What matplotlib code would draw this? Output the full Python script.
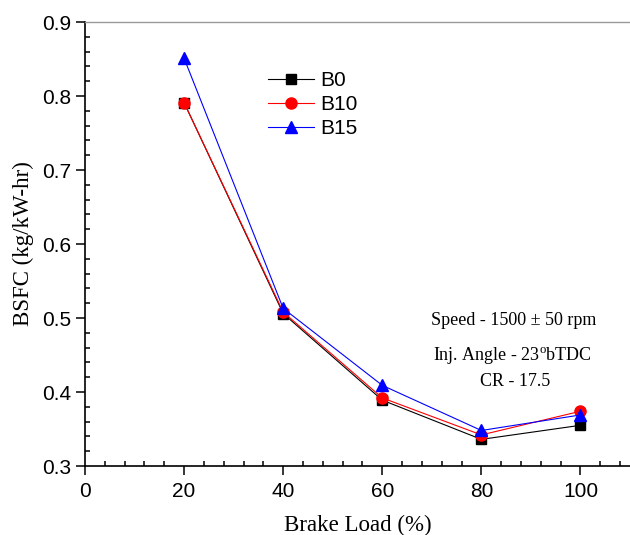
import matplotlib.pyplot as plt
from matplotlib.ticker import MultipleLocator

plt.rcParams['font.family'] = ['Liberation Sans', 'DejaVu Sans']
plt.rcParams['mathtext.fontset'] = 'custom'
plt.rcParams['mathtext.rm'] = 'Liberation Serif'

# data
load = [20, 40, 60, 80, 100]
b0 = [0.791, 0.506, 0.389, 0.336, 0.355]
b10 = [0.791, 0.508, 0.392, 0.342, 0.374]
b15 = [0.851, 0.513, 0.409, 0.348, 0.369]

fig = plt.figure(figsize=(6.3, 5.35), dpi=100)
ax = fig.add_axes([85 / 630, 1 - 466 / 535, 545 / 630, 444 / 535])

ax.plot(load, b0, color='black', lw=0.8, marker='s', ms=7, label='B0')
ax.plot(load, b10, color='red', lw=0.8, marker='o', ms=8, label='B10')
ax.plot(load, b15, color='blue', lw=0.8, marker='^', ms=9, label='B15')

ax.set_xlim(0, 110)
ax.set_ylim(0.3, 0.9)
ax.xaxis.set_major_locator(MultipleLocator(20))
ax.xaxis.set_minor_locator(MultipleLocator(4))
ax.yaxis.set_major_locator(MultipleLocator(0.1))
ax.yaxis.set_minor_locator(MultipleLocator(0.02))
ax.yaxis.set_major_formatter(plt.FormatStrFormatter('%.1f'))

ax.tick_params(which='major', direction='out', length=6.5, width=1.1, labelsize=15)
ax.tick_params(axis='x', which='major', pad=5)
ax.tick_params(which='minor', direction='in', length=3.8, width=1.1)
ax.spines['right'].set_visible(False)
ax.spines['top'].set_color('#999999')
ax.spines['top'].set_linewidth(1.0)
ax.spines['left'].set_linewidth(1.2)
ax.spines['bottom'].set_linewidth(1.2)

ax.set_xlabel('Brake Load (%)', family='Liberation Serif', fontsize=16.5, labelpad=10)
ax.set_ylabel('BSFC (kg/kW-hr)', family='Liberation Serif', fontsize=16.5, labelpad=6)

ax.legend(loc='upper left', bbox_to_anchor=(0.336, 0.89), frameon=False,
          fontsize=15, handlelength=2.2, handletextpad=0.3, labelspacing=0.25,
          borderpad=0, borderaxespad=0)

serif = dict(family='Liberation Serif', fontsize=13, ha='center', va='center',
             transform=ax.transAxes)
ax.text(0.787, 0.327, 'Speed - 1500 ± 50 rpm', **serif)
ax.text(0.784, 0.248, r'Inj. Angle - 23$^{\rm o}$bTDC', **serif)
ax.text(0.79, 0.191, 'CR - 17.5', **serif)

fig.savefig('out.png', dpi=100)
